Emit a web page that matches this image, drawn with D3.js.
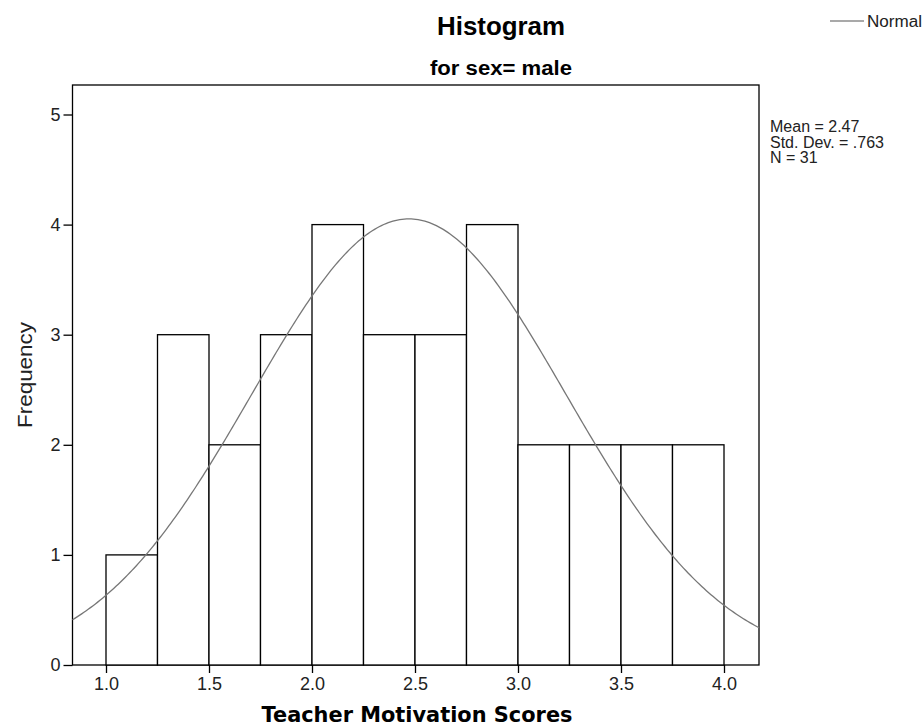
<!DOCTYPE html>
<html><head><meta charset="utf-8">
<script src="https://cdn.jsdelivr.net/npm/d3@7"></script>
<style>body{margin:0;background:#fff}</style>
</head><body>
<svg id="c" width="923" height="727"></svg>
<script>
const binStarts = [1.0,1.25,1.5,1.75,2.0,2.25,2.5,2.75,3.0,3.25,3.5,3.75];
const binWidth = 0.25;
const counts = [1,3,2,3,4,3,3,4,2,2,2,2];
const xTicks = [1.0,1.5,2.0,2.5,3.0,3.5,4.0];
const yTicks = [0,1,2,3,4,5];
const mean = 2.47, sd = 0.763, N = 31;
const statLines = ["Mean = 2.47","Std. Dev. = .763","N = 31"];

const svg = d3.select("#c");
const L=72.5, R=759, T=85, B=665;
const x = d3.scaleLinear().domain([1.0,4.0]).range([106,724]);
const y = d3.scaleLinear().domain([0,5]).range([665,114.5]);
const font = "Arial, 'Liberation Sans', sans-serif";

// frame
svg.append("rect").attr("x",L).attr("y",T).attr("width",R-L).attr("height",B-T)
  .attr("fill","none").attr("stroke","#000").attr("stroke-width",1.3);

// bars
svg.selectAll("rect.bar").data(binStarts).enter().append("rect").attr("class","bar")
  .attr("x",d=>x(d)).attr("width",d=>x(d+binWidth)-x(d))
  .attr("y",(d,i)=>y(counts[i])).attr("height",(d,i)=>y(0)-y(counts[i]))
  .attr("fill","#fff").attr("stroke","#000").attr("stroke-width",1.3);

// normal curve
const xd0 = x.invert(L), xd1 = x.invert(R);
const pts = d3.range(0,301).map(i=>{
  const v = xd0 + (xd1-xd0)*i/300;
  const f = N*binWidth/(sd*Math.sqrt(2*Math.PI))*Math.exp(-0.5*((v-mean)/sd)**2);
  return [v,f];
});
svg.append("path").datum(pts)
  .attr("d",d3.line().x(d=>x(d[0])).y(d=>y(d[1])))
  .attr("fill","none").attr("stroke","#777").attr("stroke-width",1.3);

// axes
const xa = svg.append("g").attr("transform",`translate(0,${B})`)
  .call(d3.axisBottom(x).tickValues(xTicks).tickFormat(d3.format(".1f")).tickSize(8).tickPadding(4).tickSizeOuter(0));
const ya = svg.append("g").attr("transform",`translate(${L},0)`)
  .call(d3.axisLeft(y).tickValues(yTicks).tickFormat(d3.format("d")).tickSize(9).tickPadding(3).tickSizeOuter(0));
[xa,ya].forEach(g=>{
  g.select(".domain").remove();
  g.selectAll("line").attr("stroke","#000").attr("stroke-width",1.3);
  g.selectAll("text").attr("font-family",font).attr("font-size",18).attr("fill","#222");
});
xa.selectAll("text").attr("dy","0.72em");

// titles
svg.append("text").attr("x",501).attr("y",35).attr("text-anchor","middle")
  .attr("font-family",font).attr("font-weight","bold").attr("font-size",25)
  .attr("textLength",128).attr("lengthAdjust","spacingAndGlyphs").text("Histogram");
svg.append("text").attr("x",501).attr("y",75).attr("text-anchor","middle")
  .attr("font-family",font).attr("font-weight","bold").attr("font-size",20)
  .attr("textLength",142).attr("lengthAdjust","spacingAndGlyphs").text("for sex= male");
svg.append("text").attr("x",417).attr("y",722).attr("text-anchor","middle")
  .attr("font-family","Verdana, 'DejaVu Sans', sans-serif").attr("font-weight","bold").attr("font-size",20.5)
  .attr("textLength",311).attr("lengthAdjust","spacingAndGlyphs").text("Teacher Motivation Scores");
svg.append("text").attr("transform","translate(32,375) rotate(-90)").attr("text-anchor","middle")
  .attr("font-family",font).attr("font-size",20).attr("fill","#222")
  .attr("textLength",106).attr("lengthAdjust","spacingAndGlyphs").text("Frequency");

// legend
svg.append("line").attr("x1",830).attr("x2",864).attr("y1",21).attr("y2",21).attr("stroke","#555").attr("stroke-width",1.2);
svg.append("text").attr("x",867).attr("y",27).attr("font-family",font).attr("font-size",16).attr("fill","#222")
  .attr("textLength",55).attr("lengthAdjust","spacingAndGlyphs").text("Normal");

// stats
svg.selectAll("text.stat").data(statLines).enter().append("text").attr("class","stat")
  .attr("x",770).attr("y",(d,i)=>132+i*15.5).attr("font-family",font).attr("font-size",16).attr("fill","#222").text(d=>d);
</script>
</body></html>
